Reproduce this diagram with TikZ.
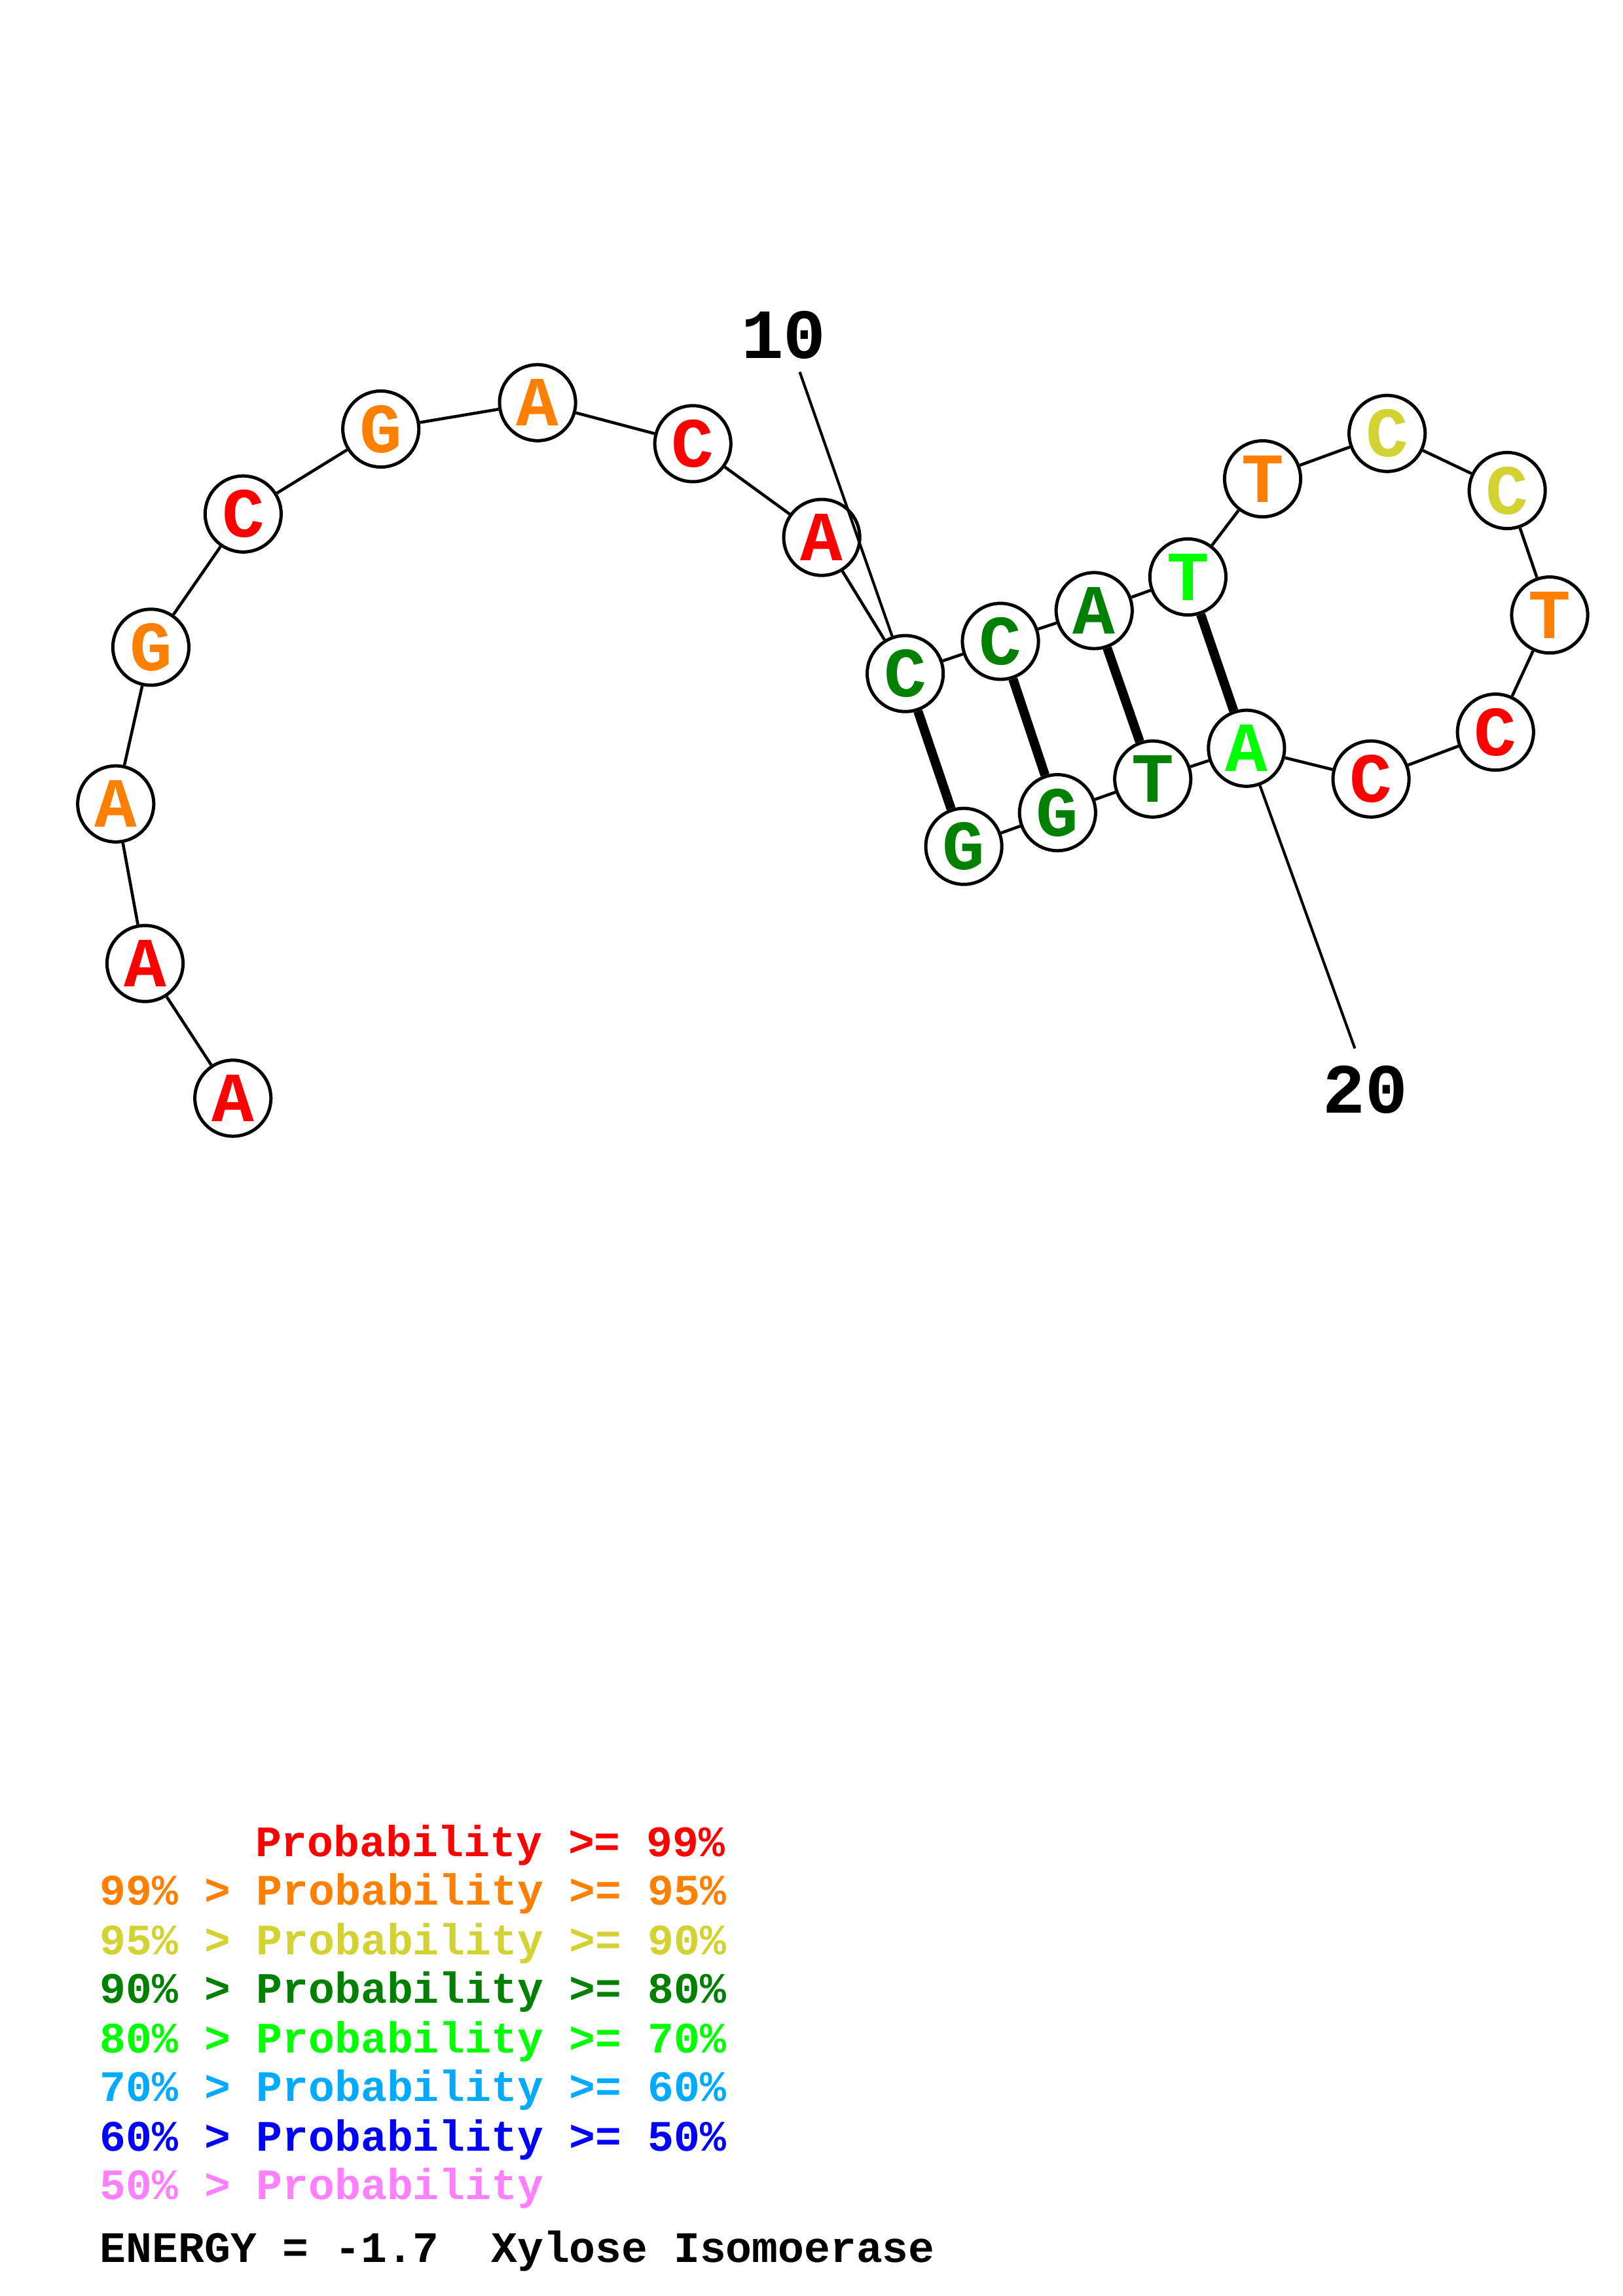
\documentclass[tikz,border=0pt]{standalone}
\usepackage{fontspec}
\usepackage{xcolor}
\usepackage{tikz}
\usetikzlibrary{positioning}
\newfontfamily\basefont{Liberation Mono}[BoldFont={Liberation Mono Bold}]
\definecolor{pnine}{RGB}{255,0,0}
\definecolor{pfive}{RGB}{255,128,0}
\definecolor{pninety}{RGB}{210,210,50}
\definecolor{peighty}{RGB}{0,128,0}
\definecolor{pseventy}{RGB}{0,255,0}
\definecolor{psixty}{RGB}{0,170,255}
\definecolor{pfifty}{RGB}{0,0,255}
\definecolor{plow}{RGB}{255,128,255}
\tikzset{
  nt/.style={circle, draw, line width=1.2pt, fill=white, minimum size=28pt, inner sep=0pt, font=\basefont\bfseries\fontsize{26}{26}\selectfont},
  backbone/.style={line width=1.1pt},
  pairline/.style={line width=3.4pt},
  tick/.style={line width=1.0pt},
  numlabel/.style={font=\basefont\bfseries\fontsize{26}{26}\selectfont},
  legend/.style={anchor=base west, inner sep=0pt, font=\basefont\bfseries\fontsize{16}{16}\selectfont}
}

\begin{document}
\begin{tikzpicture}[x=0.018954cm, y=-0.018954cm]
  \useasboundingbox (0,0) rectangle (1108,1568);
  % nucleotides
  \node[nt, text=pnine] (n1) at (159,750) {A};
  \node[nt, text=pnine] (n2) at (99,658) {A};
  \node[nt, text=pfive] (n3) at (79,549) {A};
  \node[nt, text=pfive] (n4) at (103,442) {G};
  \node[nt, text=pnine] (n5) at (166,351) {C};
  \node[nt, text=pfive] (n6) at (260,293) {G};
  \node[nt, text=pfive] (n7) at (367,275) {A};
  \node[nt, text=pnine] (n8) at (473,303) {C};
  \node[nt, text=pnine] (n9) at (561,367) {A};
  \node[nt, text=peighty] (n10) at (618,460) {C};
  \node[nt, text=peighty] (n11) at (683,438) {C};
  \node[nt, text=peighty] (n12) at (747,417) {A};
  \node[nt, text=pseventy] (n13) at (811,394) {T};
  \node[nt, text=pfive] (n14) at (862,327) {T};
  \node[nt, text=pninety] (n15) at (947,296) {C};
  \node[nt, text=pninety] (n16) at (1029,335) {C};
  \node[nt, text=pfive] (n17) at (1058,420) {T};
  \node[nt, text=pnine] (n18) at (1021,500) {C};
  \node[nt, text=pnine] (n19) at (936,532) {C};
  \node[nt, text=pseventy] (n20) at (851,511) {A};
  \node[nt, text=peighty] (n21) at (787,532) {T};
  \node[nt, text=peighty] (n22) at (722,555) {G};
  \node[nt, text=peighty] (n23) at (658,578) {G};
  % backbone
  \foreach \a/\b in {1/2,2/3,3/4,4/5,5/6,6/7,7/8,8/9,9/10,10/11,11/12,12/13,13/14,14/15,15/16,16/17,17/18,18/19,19/20,20/21,21/22,22/23}
    \draw[backbone] (n\a) -- (n\b);
  % base pairs
  \draw[pairline] (n10) -- (n23);
  \draw[pairline] (n11) -- (n22);
  \draw[pairline] (n12) -- (n21);
  \draw[pairline] (n13) -- (n20);
  % position numbers
  \node[numlabel] (ten) at (535,229) {10};
  \coordinate (tenend) at (546,254);
  \draw[tick] (tenend) -- (n10);
  \node[numlabel] (twenty) at (932,744) {20};
  \coordinate (twentyend) at (925,716);
  \draw[tick] (n20) -- (twentyend);
  % legend
  \node[legend, text=pnine] (l1) at (174,1268) {Probability >= 99\%};
  \node[legend, text=pfive] (l2) at (68,1301) {99\% > Probability >= 95\%};
  \node[legend, text=pninety] (l3) at (68,1335) {95\% > Probability >= 90\%};
  \node[legend, text=peighty] (l4) at (68,1368) {90\% > Probability >= 80\%};
  \node[legend, text=pseventy] (l5) at (68,1402) {80\% > Probability >= 70\%};
  \node[legend, text=psixty] (l6) at (68,1435) {70\% > Probability >= 60\%};
  \node[legend, text=pfifty] (l7) at (68,1469) {60\% > Probability >= 50\%};
  \node[legend, text=plow] (l8) at (68,1502) {50\% > Probability};
  \node[legend] (energy) at (68,1545) {ENERGY = -1.7\ \ Xylose Isomoerase};
\end{tikzpicture}
\end{document}
